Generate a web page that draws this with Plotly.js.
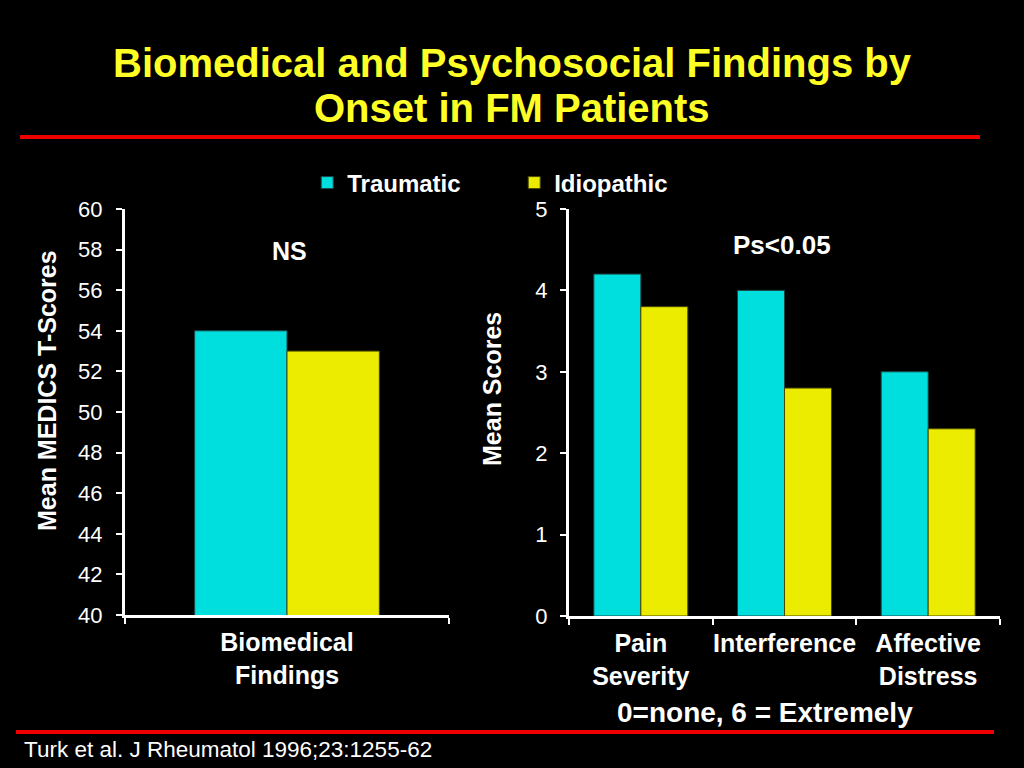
<!DOCTYPE html>
<html>
<head>
<meta charset="utf-8">
<script src="https://cdn.plot.ly/plotly-3.0.1.min.js"></script>
<style>
  html, body { margin: 0; padding: 0; background: #000; }
  #chart { width: 1024px; height: 768px; }
</style>
</head>
<body>
<div id="chart"></div>
<script>
// left panel: biomedical T-scores
const leftCats = ["Biomedical"]
const leftLabels = ["Biomedical<br>Findings"]
const leftTraumatic = [54]
const leftIdiopathic = [53]

// right panel: psychosocial mean scores
const rightCats = ["Pain", "Interference", "Affective"]
const rightLabels = ["Pain<br>Severity", "Interference", "Affective<br>Distress"]
const rightTraumatic = [4.2, 4.0, 3.0]
const rightIdiopathic = [3.8, 2.8, 2.3]

const cyan = "#00dede"
const yellow = "#ecec00"
const font = "Liberation Sans, Arial, sans-serif"

// bars sit side by side around the category centre
const bar = (x, y, name, color, edge, xa, ya, legend, w, first) => ({
    type: "bar",
    x, y, name,
    xaxis: xa, yaxis: ya,
    showlegend: legend,
    width: w,
    offset: first ? -w : 0,
    marker: {color, line: {color: edge, width: 1}},
    hoverinfo: "x+y+name"
})

const data = [
    bar(leftCats, leftTraumatic, "Traumatic", cyan, "#1a4848", "x", "y", true, 0.285, true),
    bar(leftCats, leftIdiopathic, "Idiopathic", yellow, "#484800", "x", "y", true, 0.285, false),
    bar(rightCats, rightTraumatic, "Traumatic", cyan, "#1a4848", "x2", "y2", false, 0.327, true),
    bar(rightCats, rightIdiopathic, "Idiopathic", yellow, "#484800", "x2", "y2", false, 0.327, false),
]

const axisCommon = {
    showline: true,
    linecolor: "#fff",
    linewidth: 3,
    ticks: "outside",
    ticklen: 6,
    tickwidth: 2,
    tickcolor: "#fff",
    showgrid: false,
    zeroline: false,
    fixedrange: true
}

const xTickFont = {size: 25, color: "#fff", family: font, weight: "bold"}
const yTickFont = {size: 22, color: "#fff", family: font}

const note = (text, x, y, size, extra) => Object.assign({
    text, xref: "paper", yref: "paper",
    x: x / 1024, y: 1 - y / 768,
    xanchor: "center", yanchor: "middle",
    showarrow: false,
    font: {size, color: "#fff", family: font}
}, extra || {})

const titleFont = {size: 40, color: "#ffff26", family: font}

const layout = {
    width: 1024,
    height: 768,
    margin: {l: 0, r: 0, t: 0, b: 0},
    paper_bgcolor: "#000",
    plot_bgcolor: "#000",
    font: {family: font, color: "#fff"},
    barmode: "overlay",
    xaxis: Object.assign({}, axisCommon, {
        domain: [125 / 1024, 449 / 1024],
        anchor: "y",
        type: "category",
        tickson: "boundaries",
        tickmode: "array",
        tickvals: leftCats,
        ticktext: leftLabels,
        tickangle: 0,
        ticklabelstandoff: 3,
        tickfont: xTickFont,
        range: [-0.5, 0.5]
    }),
    yaxis: Object.assign({}, axisCommon, {
        domain: [1 - 615 / 768, 1 - 209 / 768],
        anchor: "x",
        range: [40, 60],
        dtick: 2,
        ticklabelstandoff: 9,
        tickfont: yTickFont
    }),
    xaxis2: Object.assign({}, axisCommon, {
        domain: [569 / 1024, 1000 / 1024],
        anchor: "y2",
        type: "category",
        tickson: "boundaries",
        tickmode: "array",
        tickvals: rightCats,
        ticktext: rightLabels,
        tickangle: 0,
        ticklabelstandoff: 3,
        tickfont: xTickFont,
        range: [-0.5, 2.5]
    }),
    yaxis2: Object.assign({}, axisCommon, {
        domain: [1 - 616 / 768, 1 - 209 / 768],
        anchor: "x2",
        range: [0, 5],
        dtick: 1,
        ticklabelstandoff: 8,
        tickfont: yTickFont
    }),
    legend: {
        orientation: "h",
        x: 0.300,
        xanchor: "left",
        y: 1 - 183 / 768,
        yanchor: "middle",
        entrywidth: 162,
        entrywidthmode: "pixels",
        bgcolor: "rgba(0,0,0,0)",
        font: {size: 24, color: "#fff", family: font, weight: "bold"}
    },
    annotations: [
        note("<b>Biomedical and Psychosocial Findings by</b>", 512, 63, 40, {font: titleFont}),
        note("<b>Onset in FM Patients</b>", 512, 108, 40, {font: titleFont}),
        note("<b>Mean MEDICS T-Scores</b>", 47, 391, 25, {textangle: -90}),
        note("<b>Mean Scores</b>", 492, 389, 25, {textangle: -90}),
        note("<b>NS</b>", 289, 251, 25),
        note("<b>Ps<0.05</b>", 782, 245, 26),
        note("<b>0=none, 6 = Extremely</b>", 765, 712, 28),
        note("Turk et al. J Rheumatol 1996;23:1255-62", 22, 749, 22.5, {xanchor: "left"})
    ],
    shapes: [
        {type: "line", xref: "paper", yref: "paper",
         x0: 20 / 1024, x1: 980 / 1024, y0: 1 - 137 / 768, y1: 1 - 137 / 768,
         line: {color: "#ee0000", width: 4}},
        {type: "line", xref: "paper", yref: "paper",
         x0: 16 / 1024, x1: 994 / 1024, y0: 1 - 732 / 768, y1: 1 - 732 / 768,
         line: {color: "#ee0000", width: 4}}
    ]
}

Plotly.newPlot("chart", data, layout, {displayModeBar: false, staticPlot: true})
</script>
</body>
</html>
